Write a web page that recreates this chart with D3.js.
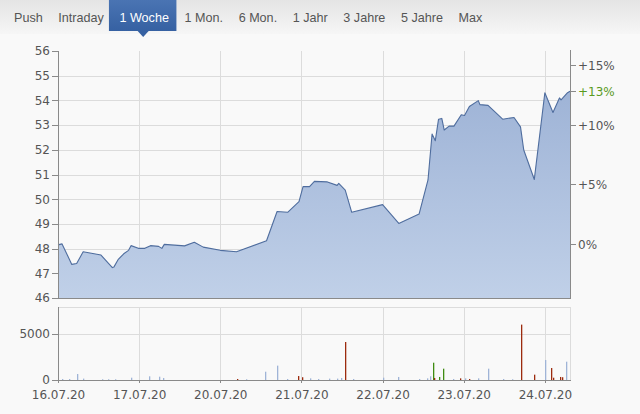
<!DOCTYPE html>
<html><head><meta charset="utf-8">
<script src="https://cdn.jsdelivr.net/npm/d3@7"></script>
<style>
html,body{margin:0;padding:0;background:#f9f9f9;}
svg{display:block;}
</style></head>
<body>
<svg id="c" width="640" height="414"></svg>
<script>
// ---------- data ----------
const tabs = ["Push","Intraday","1 Woche","1 Mon.","6 Mon.","1 Jahr","3 Jahre","5 Jahre","Max"];
const activeTab = "1 Woche";
const days = ["16.07.20","17.07.20","20.07.20","21.07.20","22.07.20","23.07.20","24.07.20"];
const priceTicks = [46,47,48,49,50,51,52,53,54,55,56];
const pctTicks = [0,5,10,15];
const prevClose = 48.19;
// time in trading-day units since 16.07.20 open
const priceT = [0.00,0.05,0.17,0.23,0.31,0.53,0.67,0.69,0.74,0.81,0.87,0.90,0.99,1.07,1.14,1.24,1.28,1.31,1.56,1.68,1.79,2.00,2.20,2.57,2.70,2.83,2.97,3.02,3.10,3.16,3.32,3.44,3.46,3.54,3.62,4.00,4.20,4.45,4.56,4.61,4.65,4.69,4.73,4.76,4.82,4.88,4.97,5.01,5.07,5.18,5.20,5.30,5.48,5.62,5.70,5.74,5.87,6.00,6.10,6.18,6.20,6.28,6.31];
const priceV = [48.15,48.19,47.36,47.40,47.87,47.74,47.23,47.26,47.55,47.79,47.93,48.12,48.01,48.01,48.12,48.09,48.01,48.17,48.11,48.26,48.06,47.93,47.87,48.32,49.50,49.47,49.90,50.51,50.51,50.72,50.70,50.56,50.64,50.37,49.47,49.78,49.02,49.40,50.78,52.64,52.37,53.24,53.27,52.80,52.96,52.96,53.42,53.39,53.75,53.99,53.83,53.80,53.24,53.31,52.93,51.99,50.80,54.31,53.51,54.10,54.02,54.31,54.37];
const volTicks = [0,5000];
const volT = [0.05,0.13,0.24,0.31,0.54,0.62,0.70,0.90,1.12,1.24,1.30,2.20,2.32,2.55,2.70,2.82,2.96,3.01,3.11,3.21,3.34,3.44,3.49,3.54,3.64,4.00,4.19,4.45,4.55,4.59,4.62,4.64,4.69,4.74,4.87,4.95,5.02,5.07,5.18,5.30,5.48,5.59,5.71,5.87,6.00,6.07,6.10,6.19,6.21,6.26];
const volV = [110,110,650,150,80,80,80,250,400,360,220,110,80,900,1560,110,430,300,180,110,150,150,220,4130,110,250,330,110,180,400,1880,220,330,1230,110,180,180,110,180,1230,110,80,6020,580,2170,1300,250,330,300,1990];
const volK = ["n","n","n","n","n","n","n","n","n","n","n","d","n","n","n","n","d","d","n","n","n","n","n","d","n","n","n","n","n","n","u","d","u","u","n","d","n","d","n","n","n","n","d","d","n","d","d","d","d","n"];

// ---------- layout ----------
const svg = d3.select("#c");
const L = 58, R = 570;
const mainTop = 51, mainBot = 298;
const volTop = 307, volBot = 380;
const axisFont = "DejaVu Sans, Verdana, sans-serif";
const txtCol = "#555";
const gridCol = "#dcdcdc";
const axisCol = "#8a8a8a";

const defs = svg.append("defs");
const gBar = defs.append("linearGradient").attr("id","bar").attr("x1",0).attr("y1",0).attr("x2",0).attr("y2",1);
gBar.append("stop").attr("offset","0").attr("stop-color","#e4e4e4");
gBar.append("stop").attr("offset","1").attr("stop-color","#f6f6f6");
const gAct = defs.append("linearGradient").attr("id","act").attr("x1",0).attr("y1",0).attr("x2",0).attr("y2",1);
gAct.append("stop").attr("offset","0").attr("stop-color","#4a74b3");
gAct.append("stop").attr("offset","1").attr("stop-color","#3661a2");
const gArea = defs.append("linearGradient").attr("id","area").attr("gradientUnits","userSpaceOnUse")
  .attr("x1",0).attr("y1",mainTop).attr("x2",0).attr("y2",mainBot);
gArea.append("stop").attr("offset","0").attr("stop-color","#98aed3");
gArea.append("stop").attr("offset","1").attr("stop-color","#c0d0e8");

// ---------- tab bar ----------
svg.append("rect").attr("x",0).attr("y",0).attr("width",640).attr("height",34).attr("fill","url(#bar)");
const tabG = svg.append("g");
let cx = 14;
tabs.forEach(t => {
  const isA = t === activeTab;
  const txt = tabG.append("text").attr("x",cx).attr("y",21.5)
    .attr("font-family","Liberation Sans, Arial, sans-serif").attr("font-size","12.6px")
    .attr("fill", isA ? "#fff" : "#555").text(t);
  const w = txt.node().getComputedTextLength();
  if (isA) {
    tabG.insert("rect","text").attr("x",cx-10.5).attr("y",0).attr("width",w+18).attr("height",31).attr("fill","url(#act)");
    const m = cx + w/2 - 1;
    tabG.insert("path","text").attr("d",`M${m-5.5},31L${m+5.5},31L${m},37Z`).attr("fill","#3661a2");
  }
  cx += w + 15.6;
});

// ---------- scales ----------
const x = d3.scaleLinear().domain([0, 6.31]).range([L, R]);
const y = d3.scaleLinear().domain([46, 56]).range([mainBot, mainTop]);
const yv = d3.scaleLinear().domain([0, 8000]).range([volBot, volBot - 73.6]);
const dayIdx = days.map((d,i)=>i);

// ---------- main grid ----------
const grid = svg.append("g").attr("stroke",gridCol).attr("stroke-width",1).attr("shape-rendering","crispEdges");
priceTicks.filter(v=>v>46 && v<56).forEach(v=>{
  grid.append("line").attr("x1",L).attr("x2",R).attr("y1",Math.round(y(v))+0.5).attr("y2",Math.round(y(v))+0.5);
});
dayIdx.slice(1).forEach(i=>{
  grid.append("line").attr("x1",Math.round(x(i))+0.5).attr("x2",Math.round(x(i))+0.5).attr("y1",mainTop).attr("y2",mainBot);
  grid.append("line").attr("x1",Math.round(x(i))+0.5).attr("x2",Math.round(x(i))+0.5).attr("y1",volTop).attr("y2",volBot);
});
grid.append("line").attr("x1",L).attr("x2",R).attr("y1",volTop+0.5).attr("y2",volTop+0.5);
grid.append("line").attr("x1",R+0.5).attr("x2",R+0.5).attr("y1",volTop).attr("y2",volBot);
grid.append("line").attr("x1",L).attr("x2",R).attr("y1",Math.round(yv(5000))+0.5).attr("y2",Math.round(yv(5000))+0.5);

// ---------- area ----------
const pts = priceT.map((t,i)=>[t, priceV[i]]);
svg.append("path").datum(pts)
  .attr("d", d3.area().x(d=>x(d[0])).y0(mainBot).y1(d=>y(d[1])))
  .attr("fill","url(#area)");
svg.append("path").datum(pts)
  .attr("d", d3.line().x(d=>x(d[0])).y(d=>y(d[1])))
  .attr("fill","none").attr("stroke","#4f6d9e").attr("stroke-width",1.1).attr("stroke-linejoin","round");

// ---------- volume bars ----------
const volColor = {n:"#9fb4d7", d:"#9c2b0e", u:"#3f8c12"};
svg.append("g").selectAll("rect").data(volT.map((t,i)=>({t, v:volV[i], k:volK[i]}))).join("rect")
  .attr("x", d=>Math.round(x(d.t)))
  .attr("width", 1.3)
  .attr("y", d=>yv(d.v))
  .attr("height", d=>volBot - yv(d.v))
  .attr("fill", d=>volColor[d.k]);

// ---------- axes ----------
function styleAxis(g){
  g.select(".domain").remove();
  g.selectAll(".tick line").attr("stroke",axisCol);
  g.selectAll(".tick text").attr("fill",txtCol).attr("font-family",axisFont).attr("font-size","12px");
}
const ax = svg.append("g").attr("shape-rendering","crispEdges");
// left main
ax.append("g").attr("transform",`translate(${L},0)`)
  .call(d3.axisLeft(y).tickValues(priceTicks).tickSize(6).tickPadding(2).tickFormat(d3.format("d")))
  .call(styleAxis);
// right pct
const pctY = p => y(prevClose*(1+p/100));
const rg = ax.append("g").attr("transform",`translate(${R},0)`);
pctTicks.forEach(p=>{
  const yy = Math.round(pctY(p))+0.5;
  rg.append("line").attr("x1",0).attr("x2",6).attr("y1",yy).attr("y2",yy).attr("stroke",axisCol);
  rg.append("text").attr("x",8).attr("y",yy).attr("dy","0.35em").attr("fill",txtCol)
    .attr("font-family",axisFont).attr("font-size","12px").text(p===0?"0%":"+"+p+"%");
});
const last = priceV[priceV.length-1];
const lastPct = Math.round((last/prevClose-1)*100);
{
  const yy = Math.round(y(last))+0.5;
  rg.append("line").attr("x1",0).attr("x2",6).attr("y1",yy).attr("y2",yy).attr("stroke",axisCol);
  rg.append("text").attr("x",8).attr("y",yy).attr("dy","0.35em").attr("fill","#5a9a1e")
    .attr("font-family",axisFont).attr("font-size","12px").text("+"+lastPct+"%");
}
// left vol
ax.append("g").attr("transform",`translate(${L},0)`)
  .call(d3.axisLeft(yv).tickValues(volTicks).tickSize(6).tickPadding(2).tickFormat(d3.format("d")))
  .call(styleAxis);
// bottom dates
ax.append("g").attr("transform",`translate(0,${volBot})`)
  .call(d3.axisBottom(x).tickValues(dayIdx).tickSize(3).tickPadding(7.5).tickFormat(i=>days[i]))
  .call(styleAxis);
// axis lines
ax.append("line").attr("x1",L+0.5).attr("x2",L+0.5).attr("y1",mainTop).attr("y2",mainBot).attr("stroke",axisCol);
ax.append("line").attr("x1",R+0.5).attr("x2",R+0.5).attr("y1",mainTop-1).attr("y2",mainBot).attr("stroke",axisCol);
ax.append("line").attr("x1",L).attr("x2",R+1).attr("y1",mainBot+0.5).attr("y2",mainBot+0.5).attr("stroke",axisCol);
ax.append("line").attr("x1",L+0.5).attr("x2",L+0.5).attr("y1",volTop).attr("y2",volBot).attr("stroke",axisCol);
ax.append("line").attr("x1",L).attr("x2",R+1).attr("y1",volBot+0.5).attr("y2",volBot+0.5).attr("stroke",axisCol);
</script>
</body></html>
